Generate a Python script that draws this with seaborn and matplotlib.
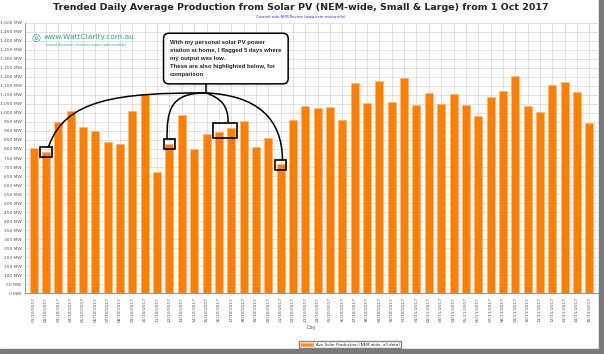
import matplotlib
matplotlib.use("Agg")
import matplotlib.pyplot as plt
import numpy as np
import pandas as pd
import seaborn as sns
from matplotlib.path import Path
from matplotlib.patches import PathPatch, Rectangle, Patch


# Daily average solar production (MW)
days = pd.date_range("2017-10-01", "2017-11-15", freq="D").strftime("%d/%m/%Y").tolist()
ave_mw = [805, 785, 948, 1013, 920, 898, 839, 826, 1013, 1102,
          670, 830, 987, 802, 883, 893, 918, 954, 811, 861,
          715, 963, 1037, 1026, 1030, 963, 1167, 1056, 1179, 1061,
          1194, 1046, 1113, 1048, 1105, 1046, 981, 1087, 1124, 1206,
          1037, 1006, 1154, 1174, 1118, 946]

# days the home system flagged as low output (index into days)
flagged_groups = [[1], [11], [15, 16], [20]]

title = "Trended Daily Average Production from Solar PV (NEM-wide, Small & Large) from 1 Oct 2017"
subtitle = "Created with NEM-Review (www.nem-review.info)"
callout = ("With my personal solar PV power\n"
           "station at home, I flagged 5 days where\n"
           "my output was low.\n"
           "These are also highlighted below, for\n"
           "comparison")
legend_label = "Ave Solar Production (NEM-wide, all data)"

ORANGE = "#FF8000"
GREEN = "#33AA77"


def main():
    sns.set_style("whitegrid")
    plt.rcParams["font.family"] = ["DejaVu Sans"]

    df = pd.DataFrame({"Day": days, "MW": ave_mw})

    fig = plt.figure(figsize=(6.04, 3.54), dpi=100)
    ax = fig.add_axes([25 / 604, 1 - 293.3 / 354, 573 / 604, (293.3 - 22.7) / 354])

    sns.barplot(data=df, x="Day", y="MW", color=ORANGE, saturation=1,
                width=0.65, edgecolor="#FFB070", linewidth=0.4, ax=ax, zorder=2)

    ax.set_ylim(0, 1500)
    ax.set_xlim(-0.7, len(days) - 0.3)
    yt = np.arange(0, 1501, 50)
    ax.set_yticks(yt)
    ax.set_yticklabels([f"{v:,} MW" for v in yt], fontsize=3.2, color="#555555")
    ax.set_xticks(range(len(days)))
    ax.set_xticklabels(days, rotation=90, fontsize=3.2, color="#555555")
    ax.tick_params(axis="both", length=1.5, pad=1, color="#999999")
    ax.grid(True, color="#DDDDDD", linewidth=0.6, zorder=0)
    ax.set_axisbelow(True)
    ax.set_ylabel("")
    ax.set_xlabel("Day", fontsize=3.5, color="#555555", labelpad=2)
    for s in ["top", "right"]:
        ax.spines[s].set_visible(False)
    for s in ["left", "bottom"]:
        ax.spines[s].set_color("#999999")
        ax.spines[s].set_linewidth(0.8)

    # highlight boxes around the flagged days
    for grp in flagged_groups:
        x0 = min(grp) - 0.47
        x1 = max(grp) + 0.47
        vals = [ave_mw[i] for i in grp]
        y0 = min(vals) - 30
        y1 = max(vals) + 25
        ax.add_patch(Rectangle((x0, y0), x1 - x0, y1 - y0, fill=False,
                               edgecolor="black", linewidth=1.2, zorder=5))

    # callout box
    ax.text(11.05, 1405, callout, fontsize=4.3, fontweight="bold", va="top", ha="left",
            family=["Liberation Sans", "DejaVu Sans"], linespacing=1.78, zorder=6,
            bbox=dict(boxstyle="round,pad=1.1,rounding_size=0.9", fc="white",
                      ec="black", lw=1.1))

    # connector curves from the callout to each box
    hub = (13.95, 1111)
    ax.plot([13.95, 13.95], [1165, 1111], color="black", lw=1.1, zorder=5)
    curves = [
        [hub, (7.0, 1111), (2.5, 1080), (1.2, 810)],
        [hub, (11.0, 1111), (10.8, 1010), (10.8, 855)],
        [hub, (15.2, 1080), (15.75, 1040), (15.75, 948)],
        [hub, (20.1, 1090), (20.15, 740)],
    ]
    for pts in curves:
        if len(pts) == 3:
            codes = [Path.MOVETO, Path.CURVE3, Path.CURVE3]
        else:
            codes = [Path.MOVETO, Path.CURVE4, Path.CURVE4, Path.CURVE4]
        ax.add_patch(PathPatch(Path(pts, codes), fill=False, edgecolor="black",
                               linewidth=1.1, zorder=5))

    # WattClarity logo text
    ax.text(0.012, 0.945, "\u25CE", transform=ax.transAxes, fontsize=7.5, color=GREEN,
            va="center", ha="left")
    ax.text(0.033, 0.948, "www.WattClarity.com.au", transform=ax.transAxes, fontsize=5.4,
            color=GREEN, va="center", ha="left")
    ax.text(0.036, 0.918, "making Australia's electricity market understandable",
            transform=ax.transAxes, fontsize=2.2, color=GREEN, va="center", ha="left")

    fig.text(0.498, 1 - 8 / 354, title, ha="center", va="center", fontsize=6.8,
             fontweight="bold")
    fig.text(0.498, 1 - 17.5 / 354, subtitle, ha="center", va="center", fontsize=2.6,
             color="#3333CC")

    handle = Patch(facecolor=ORANGE, edgecolor="#FFB070")
    fig.legend([handle], [legend_label], loc="center",
               bbox_to_anchor=(350 / 604, 1 - 344.5 / 354),
               fontsize=2.9, frameon=True, handlelength=3.2, handleheight=0.8, borderpad=0.3,
               fancybox=False, edgecolor="#666666")

    # drop shadow on right and bottom edges
    fig.patches.append(Rectangle((599 / 604, 0), 5 / 604, 1, transform=fig.transFigure,
                                 color="#7A7A7A", zorder=10))
    fig.patches.append(Rectangle((0, 0), 1, 5 / 354, transform=fig.transFigure,
                                 color="#7A7A7A", zorder=10))

    fig.savefig("out.png", dpi=100, facecolor="white")


if __name__ == "__main__":
    main()
